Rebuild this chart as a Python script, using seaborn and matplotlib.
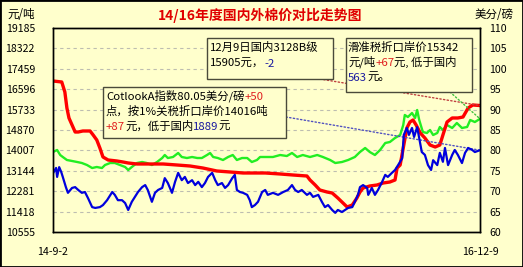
import numpy as np
import pandas as pd
import matplotlib
matplotlib.use('Agg')
import matplotlib.pyplot as plt
import matplotlib.dates as mdates
import seaborn as sns
from matplotlib.offsetbox import TextArea, HPacker, AnnotationBbox
from matplotlib.patches import Rectangle

# ---------------- data ----------------
start_date = pd.Timestamp('2014-09-02')
end_date = pd.Timestamp('2016-12-09')

# domestic 3128B price (yuan/ton, left axis); x = days since start
red_day = [0, 17, 23, 27, 31, 37, 43, 49, 58, 72,
           78, 85, 91, 97, 107, 124, 136, 146, 163, 188,
           214, 241, 266, 291, 318, 344, 369, 412, 441, 466,
           493, 499, 509, 518, 532, 542, 553, 563, 571, 581,
           590, 596, 602, 615, 629, 641, 654, 664, 668, 674,
           680, 687, 693, 699, 705, 713, 722, 732, 742, 751,
           757, 765, 775, 786, 796, 806, 815, 829]
red_val = [16943, 16901, 16478, 15801, 15378, 15082, 14785, 14785, 14828, 14828,
           14658, 14447, 14109, 13728, 13601, 13559, 13516, 13474, 13432, 13432,
           13432, 13389, 13347, 13262, 13136, 13093, 13051, 13051, 13009, 12966,
           12924, 12755, 12543, 12332, 12247, 12205, 11993, 11782, 11613, 11697,
           11993, 12247, 12416, 12501, 12543, 12628, 12670, 12755, 13262, 13389,
           14109, 14955, 15208, 15293, 15082, 14743, 14532, 14235, 14151, 14235,
           14658, 15208, 15378, 15378, 15420, 15801, 15928, 15905]

# sliding-tax landed price (yuan/ton, left axis)
green_day = [0, 8, 14, 19, 27, 37, 47, 56, 66, 76,
             85, 95, 101, 111, 120, 130, 140, 146, 153, 163,
             173, 182, 192, 202, 212, 217, 223, 233, 243, 250,
             260, 270, 280, 289, 299, 305, 311, 320, 330, 340,
             349, 357, 367, 377, 386, 396, 402, 415, 427, 441,
             454, 464, 474, 485, 499, 513, 524, 538, 548, 561,
             573, 586, 596, 606, 615, 625, 635, 645, 654, 664,
             674, 680, 683, 689, 697, 703, 707, 711, 718, 726,
             732, 738, 746, 751, 757, 765, 775, 784, 794, 804,
             810, 819, 829]
green_val = [13939, 14024, 13812, 13728, 13601, 13559, 13516, 13474, 13389, 13262,
             13305, 13262, 13389, 13474, 13474, 13389, 13305, 13178, 13305, 13474,
             13516, 13474, 13389, 13516, 13685, 13812, 13685, 13728, 13897, 13728,
             13685, 13728, 13685, 13685, 13812, 13897, 13728, 13685, 13601, 13728,
             13812, 13601, 13685, 13685, 13516, 13601, 13728, 13728, 13728, 13812,
             13770, 13897, 13728, 13812, 13728, 13812, 13728, 13601, 13474, 13516,
             13601, 13728, 13939, 14109, 13939, 13812, 14024, 14320, 14362, 14532,
             14658, 15082, 15505, 15420, 15589, 15378, 15716, 15293, 14785, 14743,
             14870, 14658, 14743, 14997, 14870, 15082, 14955, 15166, 14955, 14997,
             15293, 15208, 15342]

# Cotlook A index (US cents/lb, right axis)
blue_day = [0, 6, 8, 12, 16, 19, 25, 29, 37, 43,
            49, 56, 62, 68, 76, 82, 91, 97, 105, 115,
            120, 126, 134, 140, 146, 153, 159, 165, 173, 179,
            184, 192, 198, 204, 212, 217, 223, 231, 237, 243,
            250, 256, 262, 270, 276, 282, 289, 295, 301, 309,
            315, 320, 328, 334, 340, 348, 353, 357, 363, 369,
            377, 382, 386, 392, 398, 406, 412, 417, 427, 437,
            447, 456, 464, 470, 476, 483, 493, 499, 505, 515,
            522, 528, 534, 542, 548, 553, 561, 567, 573, 581,
            586, 592, 596, 602, 610, 612, 619, 625, 631, 639,
            645, 650, 658, 664, 670, 678, 681, 687, 691, 697,
            701, 707, 711, 716, 722, 728, 734, 738, 746, 751,
            757, 761, 767, 775, 780, 786, 794, 800, 806, 814,
            819, 829]
blue_val = [74.4, 75.7, 73.5, 75.9, 74.7, 73.5, 71.0, 69.6, 70.8, 71.0,
            70.3, 69.6, 69.8, 68.3, 66.1, 65.9, 66.1, 66.6, 67.8, 69.8,
            69.1, 67.8, 67.8, 67.1, 65.4, 67.4, 68.6, 69.8, 71.0, 71.5,
            70.3, 67.4, 69.6, 70.3, 70.8, 73.2, 72.0, 69.6, 72.3, 74.5,
            72.7, 73.5, 72.0, 72.7, 71.5, 72.3, 71.0, 72.0, 73.5, 74.5,
            72.7, 71.5, 72.0, 70.8, 71.5, 73.2, 74.0, 70.3, 69.8, 69.6,
            69.1, 67.8, 66.1, 66.6, 67.4, 69.8, 70.3, 69.1, 69.6, 69.1,
            69.8, 70.3, 71.5, 70.3, 69.8, 70.3, 69.1, 69.6, 68.6, 69.1,
            67.4, 66.1, 66.6, 65.4, 64.7, 65.4, 64.9, 65.4, 65.9, 66.1,
            67.4, 69.1, 71.0, 71.5, 70.8, 69.1, 70.8, 69.1, 70.3, 72.3,
            74.0, 73.5, 74.5, 75.2, 76.4, 78.1, 83.8, 85.5, 83.8, 85.5,
            83.3, 85.7, 83.0, 79.6, 78.9, 76.4, 75.2, 77.6, 76.4, 79.4,
            77.2, 80.6, 76.4, 78.9, 80.1, 78.9, 76.9, 79.4, 80.6, 80.1,
            79.6, 80.05]

left_ticks = [10555, 11418, 12281, 13144, 14007, 14870, 15733, 16596, 17459, 18322, 19185]
right_ticks = [60, 65, 70, 75, 80, 85, 90, 95, 100, 105, 110]
x_labels = ['14-9-2', '16-12-9']

title = '14/16年度国内外棉价对比走势图'
left_unit = '元/吨'
right_unit = '美分/磅'

box1_rows = [[('12月9日国内3128B级', 'k')],
             [('15905元，', 'k'), ('-2', 'b')]]
box2_rows = [[('滑准税折口岸价15342', 'k')],
             [('元/吨', 'k'), ('+67', 'r'), ('元, 低于国内', 'k')],
             [('563', 'b'), ('元。', 'k')]]
box3_rows = [[('CotlookA指数80.05美分/磅', 'k'), ('+50', 'r')],
             [('点，按1%关税折口岸价14016吨', 'k')],
             [('+87', 'r'), ('元，低于国内', 'k'), ('1889', 'b'), ('元', 'k')]]

# ---------------- style ----------------
sns.set_theme(style='white')
CJK = ['Noto Sans CJK SC', 'DejaVu Sans']
plt.rcParams['font.family'] = CJK
plt.rcParams['axes.unicode_minus'] = False

W, H = 523, 267
BG = '#FFFFCC'
TXT = {'k': '#000000', 'r': '#E02020', 'b': '#1A1AA0'}


def fx(px):
    return px / W


def fy(py):
    return 1 - py / H


fig = plt.figure(figsize=(W / 100, H / 100), dpi=100, facecolor=BG)
L, R, T, B = 53, 480, 28, 232
ax = fig.add_axes([fx(L), fy(B), (R - L) / W, (B - T) / H])
ax.set_facecolor(BG)
ax2 = ax.twinx()


def to_dates(d):
    return start_date + pd.to_timedelta(d, unit='D')


df_red = pd.DataFrame({'date': to_dates(red_day), 'v': red_val})
df_green = pd.DataFrame({'date': to_dates(green_day), 'v': green_val})
df_blue = pd.DataFrame({'date': to_dates(blue_day), 'v': blue_val})

sns.lineplot(data=df_green, x='date', y='v', ax=ax, color='#22EE22', linewidth=1.7)
sns.lineplot(data=df_red, x='date', y='v', ax=ax, color='#FF0000', linewidth=2.4)
sns.lineplot(data=df_blue, x='date', y='v', ax=ax2, color='#0000DD', linewidth=1.6)

ax.set_xlim(start_date, end_date)
ax.set_ylim(left_ticks[0], left_ticks[-1])
ax2.set_ylim(right_ticks[0], right_ticks[-1])
ax.set_yticks(left_ticks)
ax.set_yticklabels([str(t) for t in left_ticks])
ax2.set_yticks(right_ticks)
ax2.set_yticklabels([str(t) for t in right_ticks])
ax.set_xticks([start_date, end_date])
ax.set_xticklabels(x_labels)
for a in (ax, ax2):
    a.set_xlabel('')
    a.set_ylabel('')
ax.tick_params(axis='y', length=0, pad=13, labelsize=7.6, labelcolor='black')
ax2.tick_params(axis='y', length=0, pad=6.5, labelsize=7.6, labelcolor='black')
ax.tick_params(axis='x', length=0, pad=10.5, labelsize=7.6, labelcolor='black')

ax.yaxis.grid(True, linestyle=(0, (3, 3)), color='#BDBDB0', linewidth=0.8)
ax.xaxis.grid(False)
ax.set_axisbelow(True)
for a in (ax, ax2):
    for s in a.spines.values():
        s.set_color('black')
        s.set_linewidth(1.0)

# titles / units
fig.text(fx(260), fy(15), title, color='#E00000', fontsize=10, fontweight='bold',
         ha='center', va='center')
fig.text(fx(21), fy(15), left_unit, fontsize=8.3, ha='center', va='center', color='black')
fig.text(fx(494), fy(15), right_unit, fontsize=8.3, ha='center', va='center', color='black')

# leader lines (from boxes to the last point of each series)
end_num = mdates.date2num(end_date)
lead = dict(arrowstyle='-', linestyle=':', lw=1.0, shrinkA=0, shrinkB=0)
ax.annotate('', xy=(end_num, red_val[-1]), xycoords='data',
            xytext=(fx(320), fy(79)), textcoords='figure fraction',
            arrowprops=dict(lead, color='#C04040'), zorder=5, annotation_clip=False)
ax.annotate('', xy=(end_num, green_val[-1]), xycoords='data',
            xytext=(fx(450), fy(92)), textcoords='figure fraction',
            arrowprops=dict(lead, color='#40C040'), zorder=5, annotation_clip=False)
ax2.annotate('', xy=(end_num, blue_val[-1]), xycoords='data',
             xytext=(fx(286), fy(117)), textcoords='figure fraction',
             arrowprops=dict(lead, color='#5050C0'), zorder=1, annotation_clip=False)


def draw_box(x0, y0, x1, y1, rows, text_x, row_ys):
    rect = Rectangle((fx(x0), fy(y1)), (x1 - x0) / W, (y1 - y0) / H,
                     transform=fig.transFigure, facecolor=BG, edgecolor='#4A4A3A',
                     linewidth=1.0, zorder=10, clip_on=False)
    ax2.add_artist(rect)
    for segs, ry in zip(rows, row_ys):
        kids = [TextArea(s, textprops=dict(color=TXT[c], fontsize=8.2, family=CJK))
                for s, c in segs]
        hp = HPacker(children=kids, align='baseline', pad=0, sep=0)
        ab = AnnotationBbox(hp, (fx(text_x), fy(ry)), xycoords='figure fraction',
                            box_alignment=(0, 0.5), frameon=False, pad=0, zorder=12)
        ax2.add_artist(ab)


draw_box(207, 38, 333, 79, box1_rows, 210, [47, 64])
draw_box(346, 38, 472, 92, box2_rows, 348, [47, 62, 78])
draw_box(103, 87, 286, 138, box3_rows, 106, [96, 111.5, 126.5])

# outer border
fig.patches.append(Rectangle((0, 0), 1, 1, transform=fig.transFigure, fill=False,
                             edgecolor='black', linewidth=2.0))

fig.savefig('out.png', dpi=100, facecolor=BG)
